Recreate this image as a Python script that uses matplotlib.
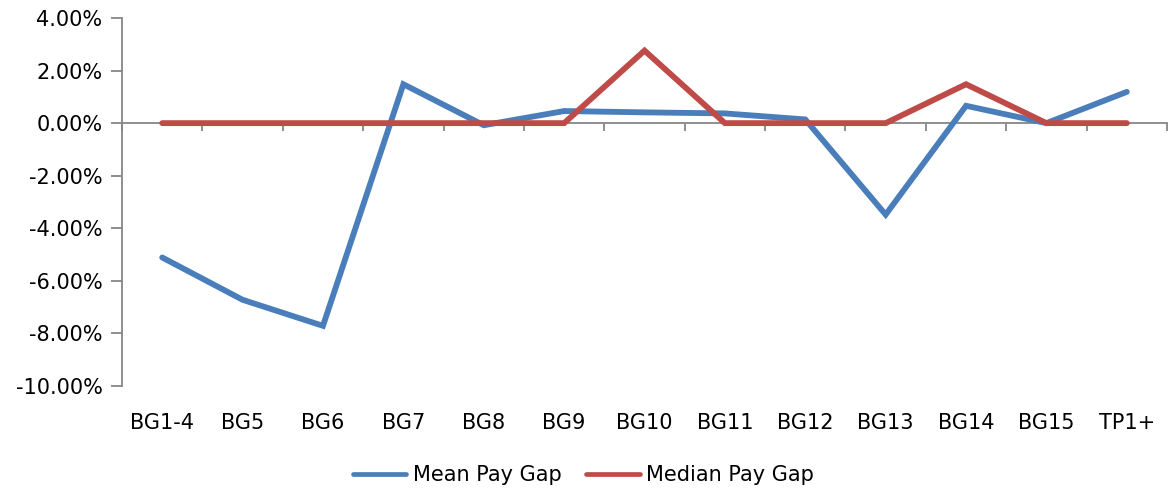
import matplotlib
matplotlib.use("Agg")
import matplotlib.pyplot as plt
import matplotlib.transforms as mtransforms
from matplotlib.ticker import FuncFormatter, FixedLocator

categories = ["BG1-4", "BG5", "BG6", "BG7", "BG8", "BG9", "BG10",
              "BG11", "BG12", "BG13", "BG14", "BG15", "TP1+"]
mean_gap = [-5.11, -6.72, -7.71, 1.48, -0.08, 0.46, 0.41,
            0.37, 0.14, -3.48, 0.66, 0.0, 1.19]
median_gap = [0.0, 0.0, 0.0, 0.0, 0.0, 0.0, 2.76,
              0.0, 0.0, 0.0, 1.48, 0.0, 0.0]
y_ticks = [4, 2, 0, -2, -4, -6, -8, -10]

BLUE = "#4A7EBB"
RED = "#BE4B48"
GREY = "#868686"

plt.rcParams["font.family"] = ["DejaVu Sans"]

fig = plt.figure(figsize=(11.71, 4.90), dpi=100)
ax = fig.add_axes([0.1042, 0.2122, 0.8924, 0.7511])

x = list(range(len(categories)))
ax.plot(x, mean_gap, color=BLUE, lw=4.2, solid_capstyle="round",
        solid_joinstyle="miter", label="Mean Pay Gap", zorder=3)
ax.plot(x, median_gap, color=RED, lw=4.2, solid_capstyle="round",
        solid_joinstyle="miter", label="Median Pay Gap", zorder=4)

ax.set_xlim(-0.5, len(categories) - 0.5)
ax.set_ylim(-10, 4)

# y axis
ax.yaxis.set_major_locator(FixedLocator(y_ticks))
ax.yaxis.set_major_formatter(FuncFormatter(lambda v, p: f"{v:.2f}%"))
ax.tick_params(axis="y", direction="out", length=8, width=1.3,
               color=GREY, labelsize=15, pad=6)

# x axis line drawn through zero, ticks at category boundaries
ax.spines["bottom"].set_position(("data", 0))
ax.spines["top"].set_visible(False)
ax.spines["right"].set_visible(False)
for s in ("left", "bottom"):
    ax.spines[s].set_color(GREY)
    ax.spines[s].set_linewidth(1.3)
ax.xaxis.set_major_locator(FixedLocator([i - 0.5 for i in range(len(categories) + 1)]))
ax.tick_params(axis="x", direction="out", length=6, width=1.3,
               color=GREY, labelbottom=False)

# category labels beneath the plot area
trans = mtransforms.blended_transform_factory(ax.transData, ax.transAxes)
for i, c in enumerate(categories):
    ax.text(i, -0.10, c, transform=trans, ha="center", va="center", fontsize=15)

leg = fig.legend(loc="center", bbox_to_anchor=(0.4983, 0.031), ncol=2, frameon=False,
                 fontsize=15, handlelength=2.55, handletextpad=0.3, columnspacing=1.2)
for h in leg.get_lines():
    h.set_linewidth(3.4)

fig.savefig("out.png", dpi=100, facecolor="white")
